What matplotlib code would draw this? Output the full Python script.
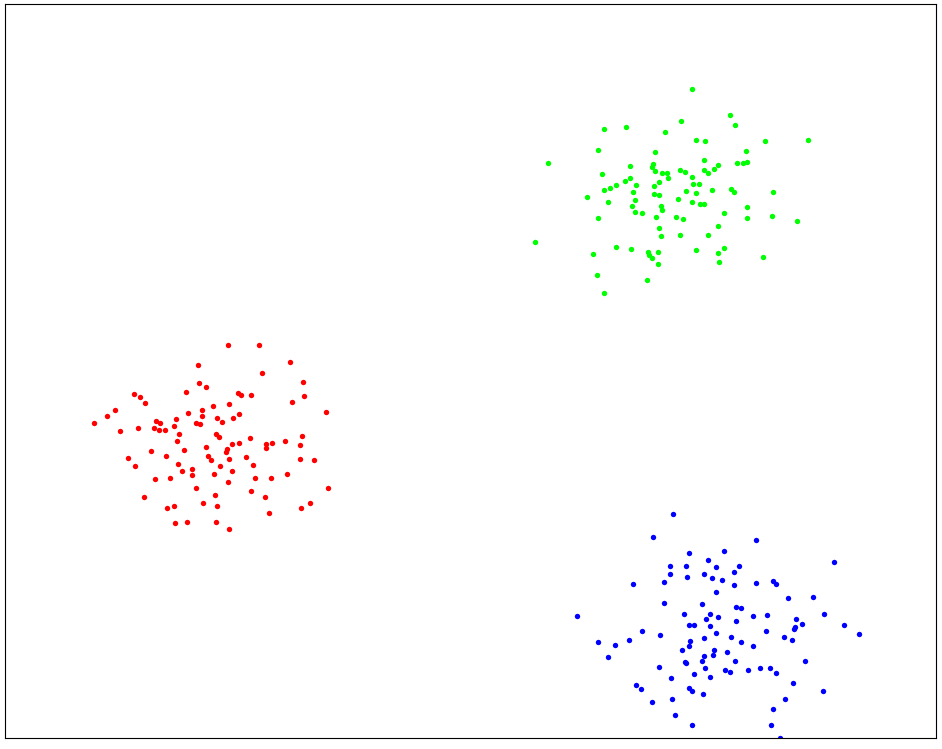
import matplotlib
matplotlib.use("Agg")
import matplotlib.pyplot as plt

# values (y grows downward, axis is inverted below)
red_x = [197.7, 199.3, 205.7, 133.7, 140.3, 145, 186.3, 115.3, 106.7, 93.7,
         120, 138, 154, 156, 159.7, 159.3, 165.3, 174.3, 176.3, 179.3,
         188.3, 201.7, 202.3, 196.3, 200.3, 228.3, 259, 289.7, 262.3, 303.3,
         304, 238.3, 240.7, 251.3, 213, 228.7, 291.7, 326.3, 217.3, 222.3,
         232.7, 239.3, 215.7, 219.3, 250.3, 302.3, 176.7, 183.7, 205.7, 208,
         150.7, 166.3, 128, 134.7, 178, 181.7, 192.3, 192, 154.7, 170.3,
         195.7, 144, 202.7, 173.7, 167.3, 174.7, 187.3, 284.7, 231.7, 239,
         266.3, 272, 266.3, 300.3, 227.3, 226.3, 210.7, 229, 246.3, 299.7,
         314.3, 219.7, 253.3, 232.3, 213.7, 255.3, 271, 287.3, 228.3, 328.3,
         251, 264.7, 215.3, 217.3, 310.3, 301.3, 268.7, 216, 229]
red_y = [365, 383.3, 387.3, 394, 397, 403, 391.7, 409.7, 416.3, 423,
         430.7, 428, 428.3, 420.7, 423, 429.7, 430.3, 426, 419.3, 434.3,
         413.3, 410.3, 416, 423.3, 424.3, 345.3, 345.3, 362.3, 373.3, 382.3,
         396.3, 393.3, 395, 395.3, 406, 404, 402.3, 412.3, 417.7, 422.3,
         417.7, 414, 434, 437.3, 438, 436.3, 441.3, 449.7, 447, 455.7,
         451, 456, 457.7, 466.3, 464.3, 471, 469.3, 475, 479.3, 478.3,
         487.7, 496.7, 502.7, 506, 508.3, 523, 522, 441.3, 443.7, 443,
         444, 443, 448, 445.3, 449.3, 451.7, 460, 458.7, 456.7, 459.3,
         460, 465.7, 465, 470.7, 473.7, 478.3, 478.3, 474, 482.3, 488,
         491, 497, 494.7, 506.3, 503.3, 508.3, 513.3, 521.7, 529.3]

green_x = [604.3, 626.3, 665, 597.7, 655, 548.3, 653.3, 652, 630.3, 654.7,
           661.7, 666.7, 667.7, 601.7, 630.3, 625, 659.3, 636, 653.7, 615.7,
           610, 604, 587, 633, 654, 659.3, 608, 635.3, 632, 661,
           662.3, 634.7, 642.3, 597.7, 656, 659.3, 661.3, 535.3, 616.3, 630.7,
           592.7, 648.3, 649, 652, 658, 657.7, 596.7, 647.3, 603.7, 692,
           730, 735.3, 680.7, 695.7, 704.7, 765, 808.3, 745.7, 704.3, 737,
           743, 746.7, 717.7, 713.7, 708.3, 703.7, 679.7, 685.3, 692, 693,
           699.3, 685.7, 696, 712.3, 731, 734.3, 772.7, 678.3, 692.3, 700,
           704, 747.3, 724, 675.7, 683.3, 747.3, 772, 796.7, 717.7, 680,
           708, 724, 696, 718.3, 719.3, 763]
green_y = [129.3, 127.3, 132.3, 150.3, 152.3, 163.3, 164, 166.7, 165.7, 171.3,
           173.3, 172.7, 177.7, 174.3, 178.3, 181.3, 182.3, 185, 186, 184.7,
           187.7, 190.3, 197, 191.7, 194.3, 195.3, 202, 200.3, 206.3, 205.7,
           209.7, 212, 213.3, 217.7, 217.3, 228.3, 236.3, 242, 247.3, 249,
           254, 251.7, 255.3, 258, 251.7, 263.7, 275, 280.3, 293.3, 88.7,
           115.3, 124.7, 121.3, 140, 140.7, 141, 140, 151.3, 160, 163.3,
           163, 162.3, 165.3, 169, 173.3, 170, 169.7, 172.3, 176.7, 183.7,
           184.3, 191, 193.3, 190, 189, 192, 191.7, 199, 202.3, 204.3,
           204.3, 207.3, 213.3, 217.3, 219.3, 218, 215.7, 221.3, 226, 235,
           235.3, 247.7, 250.3, 253.3, 261.7, 257]

blue_x = [673, 653, 688.7, 708, 670.3, 685.7, 670, 687.3, 704.3, 712,
          633, 664.3, 664.3, 702.3, 577, 684, 710, 705.7, 755.7, 723.7,
          834.3, 715.7, 739, 734, 721.7, 734.3, 756.3, 773.3, 775.7, 716,
          788.3, 813.3, 736, 740.7, 717.7, 752.7, 767.3, 824, 735.7, 796,
          689.3, 693.7, 710.3, 641.7, 659.7, 598.3, 615, 629.3, 690, 688.7,
          703.7, 682.3, 713.7, 713.3, 703.7, 608.3, 685, 686.3, 702.3, 704.7,
          659.3, 694.3, 710.3, 671.3, 636, 641.3, 688.7, 691.7, 703.3, 651.7,
          672, 675.3, 692.3, 716.3, 731, 766.3, 802, 795.3, 793.7, 784.3,
          792.3, 843.7, 859.3, 741.3, 752.7, 727, 734.7, 805, 725.3, 730.3,
          748.3, 760, 770.3, 776.3, 792.7, 823, 785.3, 773, 771.3, 779.7]
blue_y = [514.3, 537, 553, 560, 566, 566.3, 573.7, 577.3, 574, 578,
          584, 582, 603, 604, 616.3, 614.3, 613.7, 618.7, 540, 550.7,
          562.3, 566.7, 566, 571.7, 580.3, 585.3, 582.7, 581, 584.3, 592.3,
          598.3, 597.3, 607.3, 607.7, 617, 615.7, 614.7, 613.7, 620.7, 619,
          625, 624.7, 626.3, 631.3, 635, 642.3, 644.7, 640, 641, 646,
          638.3, 650.3, 649.7, 655.3, 656, 657, 662, 663.3, 661.3, 668.3,
          667.3, 674.3, 677.3, 678, 685, 689.3, 687.7, 691.3, 694.3, 701.7,
          698.7, 715.3, 725, 633.3, 636.7, 631, 624.3, 627, 629, 637,
          640.3, 625.3, 634.3, 642.3, 645.7, 652.3, 661, 661, 670, 672.3,
          670.3, 667.7, 668.3, 673.3, 683, 691.3, 699.3, 709.3, 724.7, 737.7]

fig = plt.figure(figsize=(9.42, 7.49), dpi=100)
ax = fig.add_axes([5 / 942, 11 / 749, 931 / 942, 734 / 749])

ax.scatter(red_x, red_y, c='red', s=15, linewidths=0)
ax.scatter(green_x, green_y, c='lime', s=15, linewidths=0)
ax.scatter(blue_x, blue_y, c='blue', s=15, linewidths=0)

ax.set_xlim(5, 936)
ax.set_ylim(738, 4)
ax.set_xticks([])
ax.set_yticks([])

fig.savefig('out.png', dpi=100)
